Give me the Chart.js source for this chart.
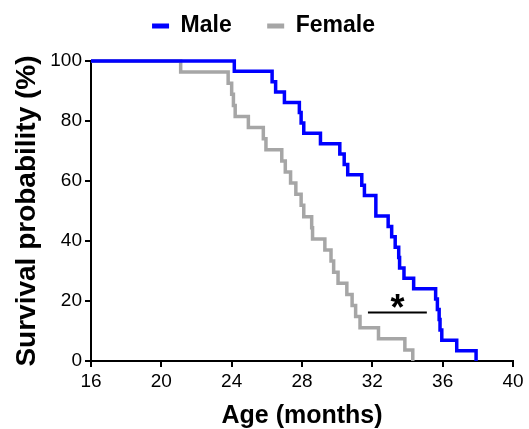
<!DOCTYPE html>
<html lang="en">
<head>
  <meta charset="UTF-8">
  <title>Survival by sex</title>
  <script src="https://cdn.jsdelivr.net/npm/chart.js"></script>
  <style>
    html, body { margin: 0; padding: 0; background: #fff; }
  </style>
</head>
<body>
  <canvas id="survivalChart" width="529" height="429"></canvas>
  <script>
// Kaplan-Meier steps (age in months, survival in %)
const maleAge = [16, 24.15, 26.3, 26.5, 27.0, 27.85, 27.95, 28.1, 29.05, 30.15, 30.4, 30.6, 31.4, 31.55, 32.2, 32.2, 32.9, 33.1, 33.3, 33.5, 33.55, 33.8, 34.35, 35.6, 35.7, 35.8, 35.85, 35.95, 36.8, 37.9];
const maleSurvival = [100, 96.6, 93.1, 89.7, 86.2, 82.8, 79.3, 75.9, 72.4, 69.0, 65.5, 62.1, 58.6, 55.2, 51.7, 48.3, 44.8, 41.4, 37.9, 34.5, 31.0, 27.6, 24.1, 20.7, 17.2, 13.8, 10.3, 6.9, 3.4, 0];

const femaleAge = [16, 21.1, 23.8, 24.0, 24.1, 24.2, 24.95, 25.8, 25.95, 26.85, 27.05, 27.35, 27.65, 27.95, 28.1, 28.55, 28.6, 29.3, 29.65, 29.8, 30.05, 30.55, 30.85, 31.05, 31.3, 32.35, 33.85, 34.3];
const femaleSurvival = [100, 96.3, 92.6, 88.9, 85.2, 81.5, 77.8, 74.1, 70.4, 66.7, 63.0, 59.3, 55.6, 51.9, 48.1, 44.4, 40.7, 37.0, 33.3, 29.6, 25.9, 22.2, 18.5, 14.8, 11.1, 7.4, 3.7, 0];

const seriesNames = ['Male', 'Female'];
const xTicks = [16, 20, 24, 28, 32, 36, 40];
const yTicks = [0, 20, 40, 60, 80, 100];

// significance bar between the curves
const sigFrom = 31.75;
const sigTo = 35.1;
const sigLevel = 16.2;
const sigLabel = '*';

const toPoints = (xs, ys) => xs.map((x, i) => ({ x: x, y: ys[i] }));

Chart.defaults.font.family = '"Liberation Sans", Arial, sans-serif';
Chart.defaults.color = '#000';

const sigBar = {
  id: 'sigBar',
  afterDatasetsDraw(chart) {
    const { ctx, scales: { x, y } } = chart;
    const x1 = x.getPixelForValue(sigFrom);
    const x2 = x.getPixelForValue(sigTo);
    const yy = y.getPixelForValue(sigLevel);
    ctx.save();
    ctx.strokeStyle = '#000';
    ctx.lineWidth = 2;
    ctx.beginPath();
    ctx.moveTo(x1, yy);
    ctx.lineTo(x2, yy);
    ctx.stroke();
    ctx.fillStyle = '#000';
    ctx.font = 'bold 36px "Liberation Sans", Arial, sans-serif';
    ctx.textAlign = 'center';
    ctx.textBaseline = 'alphabetic';
    ctx.fillText(sigLabel, (x1 + x2) / 2, yy + 8);
    ctx.restore();
  }
};

const axisGrid = {
  display: true,
  drawOnChartArea: false,
  drawTicks: true,
  tickLength: 6,
  color: '#000',
  lineWidth: 2
};

new Chart(document.getElementById('survivalChart'), {
  type: 'line',
  data: {
    datasets: [{
      label: seriesNames[0],
      data: toPoints(maleAge, maleSurvival),
      borderColor: '#0000ff',
      backgroundColor: '#0000ff',
      borderWidth: 3.5,
      stepped: true,
      pointRadius: 0,
      clip: false
    }, {
      label: seriesNames[1],
      data: toPoints(femaleAge, femaleSurvival),
      borderColor: '#a6a6a6',
      backgroundColor: '#a6a6a6',
      borderWidth: 3.5,
      stepped: true,
      pointRadius: 0,
      clip: false
    }]
  },
  options: {
    responsive: false,
    animation: false,
    devicePixelRatio: 1,
    layout: { padding: { top: -21, right: 16, bottom: 0, left: 14 } },
    plugins: {
      tooltip: { enabled: false },
      legend: {
        position: 'top',
        labels: {
          boxWidth: 17,
          boxHeight: 5,
          padding: 35.5,
          font: { size: 23, weight: 'bold' },
          generateLabels(chart) {
            return Chart.defaults.plugins.legend.labels.generateLabels(chart)
              .map(item => Object.assign(item, { lineWidth: 0 }));
          }
        }
      },
      // empty spacer between legend and plot
      subtitle: {
        display: true,
        text: '',
        weight: 500,
        font: { size: 10 },
        padding: { top: 1.5, bottom: 0 }
      }
    },
    scales: {
      x: {
        type: 'linear',
        min: 16,
        max: 40,
        afterBuildTicks: s => { s.ticks = xTicks.map(v => ({ value: v })); },
        afterFit: s => { s.height = 68; },
        ticks: { font: { size: 19 }, padding: 3, maxRotation: 0 },
        grid: axisGrid,
        border: { display: true, color: '#000', width: 2 },
        title: {
          display: true,
          text: 'Age (months)',
          font: { size: 25, weight: 'bold' },
          padding: { top: 0, bottom: -2 }
        }
      },
      y: {
        min: 0,
        max: 100,
        afterBuildTicks: s => { s.ticks = yTicks.map(v => ({ value: v })); },
        afterFit: s => { s.width = 77; },
        ticks: { font: { size: 19 }, padding: 3 },
        grid: axisGrid,
        border: { display: true, color: '#000', width: 2 },
        title: {
          display: true,
          text: 'Survival probability (%)',
          font: { size: 28, weight: 'bold' },
          padding: { top: -4, bottom: 0 }
        }
      }
    }
  },
  plugins: [sigBar]
});
  </script>
</body>
</html>
